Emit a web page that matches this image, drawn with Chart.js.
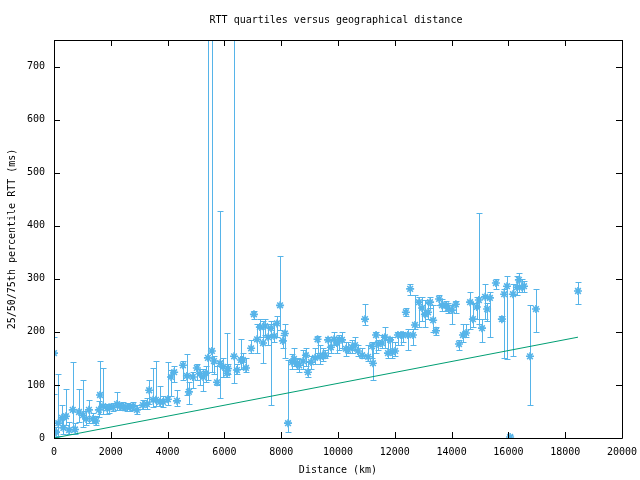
<!DOCTYPE html>
<html>
<head>
<meta charset="utf-8">
<script src="https://cdn.jsdelivr.net/npm/chart.js@4"></script>
<style>
  html, body { margin: 0; padding: 0; background: #fff; }
  #wrap { width: 640px; height: 480px; }
</style>
</head>
<body>
<div id="wrap"><canvas id="rtt-chart"></canvas></div>
<script>
// distance (km), median RTT and quartiles (ms)
const DIST = [
  0, 70, 150, 280, 330, 420, 530, 660, 740, 880, 1020, 1130, 1230, 1370, 1480, 1580, 1620, 1730, 1870, 1940,
  2080, 2220, 2320, 2430, 2570, 2680, 2780, 2920, 3130, 3270, 3350, 3490, 3590, 3730, 3840, 4010, 4120, 4230, 4330, 4540,
  4680, 4750, 4890, 5030, 5140, 5250, 5350, 5420, 5560, 5630, 5740, 5850, 5950, 6090, 6130, 6340, 6440, 6580, 6650, 6760,
  6940, 7040, 7150, 7250, 7360, 7430, 7540, 7640, 7750, 7850, 7960, 8060, 8130, 8240, 8380, 8450, 8560, 8630, 8770, 8870,
  8940, 9050, 9190, 9280, 9370, 9470, 9540, 9650, 9750, 9860, 9960, 10040, 10140, 10280, 10350, 10490, 10600, 10700, 10850, 10950,
  11060, 11200, 11230, 11340, 11410, 11550, 11650, 11760, 11830, 11900, 12010, 12110, 12220, 12290, 12390, 12460, 12540, 12640, 12710, 12850,
  12960, 13060, 13170, 13240, 13350, 13450, 13560, 13660, 13800, 13870, 14010, 14150, 14260, 14400, 14510, 14650, 14750, 14890, 14960, 15070,
  15180, 15250, 15350, 15560, 15770, 15850, 15950, 16060, 16160, 16300, 16370, 16480, 16550, 16760, 16970, 18450
];
const MEDIAN = [
  160, 11, 28, 38, 19, 41, 15, 53, 16, 49, 43, 36, 53, 36, 32, 53, 81, 60, 56, 58,
  58, 64, 60, 58, 58, 58, 60, 53, 62, 64, 90, 72, 72, 68, 68, 73, 115, 124, 70, 137,
  117, 87, 115, 132, 121, 115, 122, 151, 164, 145, 105, 141, 134, 122, 131, 154, 128, 147, 147, 132,
  169, 233, 186, 209, 179, 211, 190, 207, 192, 216, 250, 183, 197, 28, 143, 149, 141, 137, 145, 156,
  124, 143, 151, 186, 153, 156, 156, 185, 171, 186, 179, 186, 185, 168, 166, 171, 175, 164, 156, 224,
  153, 173, 141, 194, 177, 179, 190, 160, 185, 162, 164, 194, 194, 194, 237, 194, 281, 194, 213, 256,
  245, 233, 237, 256, 222, 202, 262, 250, 250, 245, 241, 252, 177, 194, 198, 256, 224, 247, 260, 207,
  266, 243, 264, 292, 224, 271, 286, 2, 271, 284, 298, 284, 286, 154, 243, 277
];
const Q25 = [
  82, 2, 3, 20, 8, 25, 8, 21, 8, 30, 21, 25, 28, 28, 25, 40, 45, 45, 45, 48,
  50, 52, 52, 52, 50, 50, 52, 45, 55, 55, 65, 58, 60, 60, 58, 62, 80, 105, 60, 110,
  81, 65, 95, 110, 100, 88, 105, 110, 125, 120, 100, 75, 115, 115, 120, 104, 120, 130, 130, 125,
  160, 225, 160, 190, 141, 195, 175, 62, 180, 190, 204, 170, 150, 11, 130, 135, 130, 125, 130, 135,
  115, 130, 140, 160, 140, 145, 150, 155, 160, 175, 160, 165, 170, 155, 160, 160, 165, 155, 150, 213,
  145, 150, 109, 160, 165, 170, 170, 150, 160, 150, 155, 175, 175, 180, 230, 165, 270, 175, 205, 210,
  220, 210, 225, 245, 200, 195, 250, 240, 240, 235, 215, 235, 165, 180, 190, 205, 210, 225, 215, 180,
  225, 220, 190, 280, 220, 150, 149, 0, 155, 270, 275, 275, 275, 62, 200, 252
];
const Q75 = [
  190, 20, 120, 62, 35, 92, 30, 143, 28, 92, 109, 50, 72, 48, 42, 70, 145, 132, 65, 65,
  66, 87, 66, 68, 66, 64, 68, 62, 72, 75, 109, 132, 145, 98, 80, 143, 128, 135, 90, 145,
  158, 105, 125, 140, 130, 130, 135, 1200, 1200, 155, 135, 427, 150, 198, 140, 1200, 140, 186, 160, 150,
  185, 240, 215, 225, 220, 225, 215, 220, 215, 230, 343, 195, 215, 147, 158, 170, 150, 148, 165, 170,
  145, 155, 170, 192, 175, 170, 165, 190, 185, 200, 190, 195, 200, 180, 180, 185, 190, 175, 170, 252,
  175, 180, 180, 200, 185, 195, 210, 185, 190, 190, 180, 200, 200, 200, 245, 205, 290, 205, 270, 265,
  265, 260, 255, 265, 250, 210, 270, 262, 258, 255, 250, 258, 185, 215, 215, 275, 255, 265, 424, 225,
  290, 255, 275, 300, 230, 280, 305, 5, 290, 305, 310, 300, 295, 250, 280, 294
];
// reference line (lower bound)
const LINE_X = [0, 18450];
const LINE_Y = [0, 190];

const X_TICKS = [0, 2000, 4000, 6000, 8000, 10000, 12000, 14000, 16000, 18000, 20000];
const Y_TICKS = [0, 100, 200, 300, 400, 500, 600, 700];

const TITLE = 'RTT quartiles versus geographical distance';
const BLUE  = '#56b4e9';
const GREEN = '#009e73';
const FONT  = { family: 'DejaVu Sans Mono', size: 10 };

// ── error bars: q25..q75 with small caps ─────────────────────────────────────
const errorBarPlugin = {
  id: 'errorBars',
  beforeDatasetsDraw(chart) {
    const { ctx, chartArea: a } = chart;
    const xs = chart.scales.x, ys = chart.scales.y;
    ctx.save();
    ctx.beginPath();
    ctx.rect(a.left, a.top, a.right - a.left, a.bottom - a.top);
    ctx.clip();
    ctx.strokeStyle = BLUE;
    ctx.lineWidth = 1;
    ctx.beginPath();
    DIST.forEach((d, i) => {
      const x  = Math.round(xs.getPixelForValue(d)) + 0.5;
      const y1 = Math.round(ys.getPixelForValue(Q25[i])) + 0.5;
      const y2 = Math.round(ys.getPixelForValue(Q75[i])) + 0.5;
      ctx.moveTo(x, y1); ctx.lineTo(x, y2);
      ctx.moveTo(x - 3, y1); ctx.lineTo(x + 3, y1);
      ctx.moveTo(x - 3, y2); ctx.lineTo(x + 3, y2);
    });
    ctx.stroke();
    ctx.restore();
  }
};

// ── gnuplot-style border with inward ticks, title centred on the plot ───────
const borderPlugin = {
  id: 'gpBorder',
  afterDraw(chart) {
    const { ctx, chartArea: a } = chart;
    const xs = chart.scales.x, ys = chart.scales.y;
    ctx.save();
    ctx.strokeStyle = '#000';
    ctx.lineWidth = 1;
    ctx.beginPath();
    ctx.rect(Math.round(a.left) + 0.5, Math.round(a.top) + 0.5,
             Math.round(a.right - a.left), Math.round(a.bottom - a.top));
    X_TICKS.forEach(v => {
      const x = Math.round(xs.getPixelForValue(v)) + 0.5;
      ctx.moveTo(x, a.bottom); ctx.lineTo(x, a.bottom - 6);
      ctx.moveTo(x, a.top);    ctx.lineTo(x, a.top + 6);
    });
    Y_TICKS.forEach(v => {
      const y = Math.round(ys.getPixelForValue(v)) + 0.5;
      ctx.moveTo(a.left, y);  ctx.lineTo(a.left + 6, y);
      ctx.moveTo(a.right, y); ctx.lineTo(a.right - 6, y);
    });
    ctx.stroke();

    ctx.fillStyle = '#000';
    ctx.font = '10px "DejaVu Sans Mono"';
    ctx.textAlign = 'center';
    ctx.textBaseline = 'middle';
    ctx.fillText(TITLE, (a.left + a.right) / 2 - 2, 20);
    ctx.restore();
  }
};

const points = DIST.map((d, i) => ({ x: d, y: MEDIAN[i] }));
const line   = LINE_X.map((d, i) => ({ x: d, y: LINE_Y[i] }));

new Chart(document.getElementById('rtt-chart').getContext('2d'), {
  type: 'scatter',
  plugins: [errorBarPlugin, borderPlugin],
  data: {
    datasets: [
      {
        label: 'quartiles',
        data: points,
        pointStyle: 'star',
        pointRadius: 4,
        borderColor: BLUE,
        backgroundColor: BLUE,
        borderWidth: 1.6,
      },
      {
        type: 'line',
        label: 'bound',
        data: line,
        borderColor: GREEN,
        borderWidth: 1,
        pointRadius: 0,
        fill: false,
      }
    ]
  },
  options: {
    responsive: true,
    maintainAspectRatio: false,
    animation: false,
    layout: { padding: { left: 0, right: 18, top: 40, bottom: 0 } },
    scales: {
      x: {
        type: 'linear',
        min: 0, max: 20000,
        afterBuildTicks: s => { s.ticks = X_TICKS.map(v => ({ value: v })); },
        afterFit: s => { s.height = 42; s.paddingLeft = 0; s.paddingRight = 0; },
        grid: { display: false, drawTicks: false },
        border: { display: false },
        ticks: { color: '#000', font: FONT, padding: 8, maxRotation: 0, callback: v => String(v) },
        title: { display: true, text: 'Distance (km)', color: '#000', font: FONT, padding: { top: 1, bottom: 4 } },
      },
      y: {
        min: 0, max: 750,
        afterBuildTicks: s => { s.ticks = Y_TICKS.map(v => ({ value: v })); },
        afterFit: s => { s.width = 54; s.paddingTop = 0; s.paddingBottom = 0; },
        grid: { display: false, drawTicks: false },
        border: { display: false },
        ticks: { color: '#000', font: FONT, padding: 9, callback: v => String(v) },
        title: { display: true, text: '25/50/75th percentile RTT (ms)', color: '#000', font: FONT, padding: { top: 6, bottom: 2 } },
      }
    },
    plugins: {
      legend: { display: false },
      tooltip: { enabled: false },
      title: { display: false }
    }
  }
});
</script>
</body>
</html>
